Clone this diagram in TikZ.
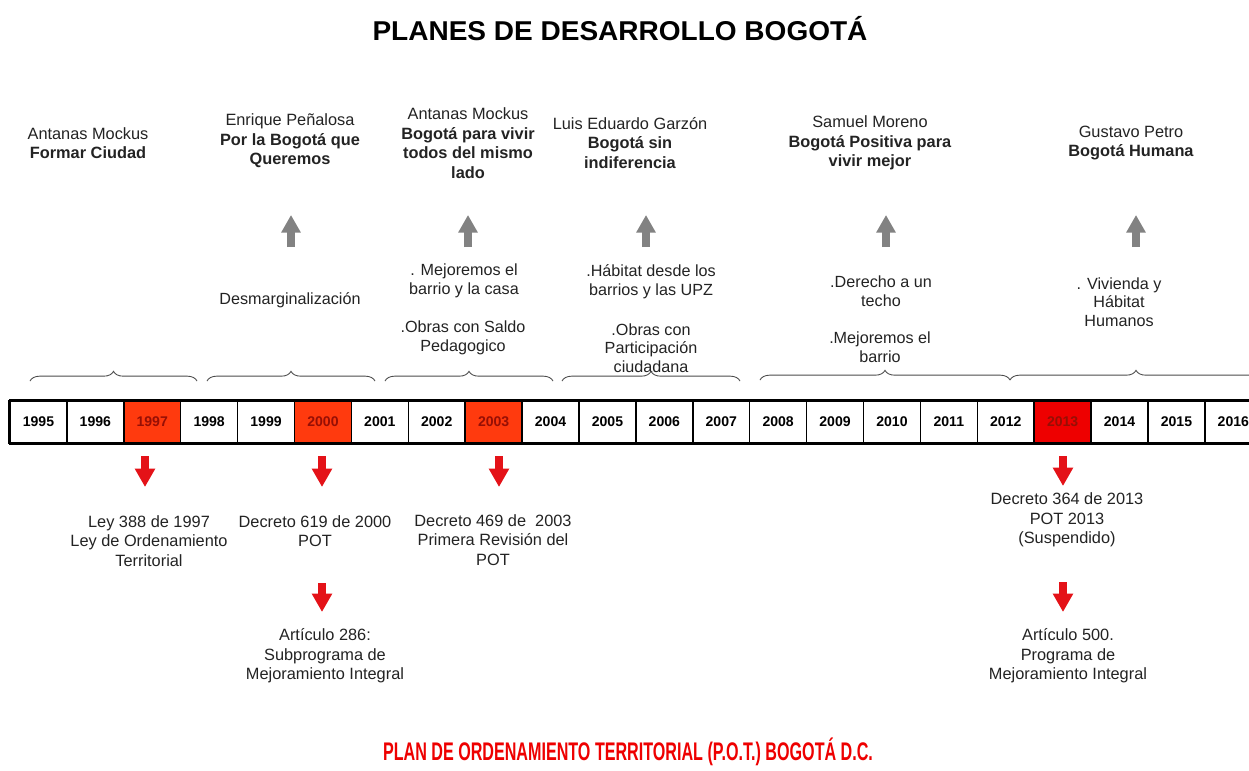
\documentclass[tikz,border=0pt]{standalone}
\usepackage{fontspec}
\setmainfont{Liberation Sans}
\usepackage{graphicx}
\usetikzlibrary{arrows.meta,decorations.pathreplacing}
\definecolor{naranja}{RGB}{255,58,14}
\definecolor{rojo}{RGB}{238,0,0}
\definecolor{rojooscuro}{RGB}{150,15,5}
\definecolor{flecha}{RGB}{228,18,24}
\definecolor{gris}{RGB}{130,130,130}
\definecolor{texto}{RGB}{35,35,35}
\tikzset{
    plan/.style={align=center,inner sep=0pt,text=texto,font=\fontsize{9.3}{11.2}\selectfont},
    item/.style={align=center,inner sep=0pt,text=texto,font=\fontsize{9.2}{10.6}\selectfont},
    norma/.style={align=center,inner sep=0pt,text=texto,font=\fontsize{9.3}{11}\selectfont},
    anio/.style={draw,line width=0.8pt,minimum width=1.138cm,minimum height=0.84cm,inner sep=0pt,font=\fontsize{8}{9}\selectfont\bfseries},
    periodo/.style={draw=black!70,line width=0.5pt,decorate,decoration={brace,amplitude=5.5pt}},
    subir/.style={draw=gris,line width=4.6pt,-{Triangle[length=10pt,width=10.5pt]}},
    bajar/.style={draw=flecha,line width=5pt,-{Triangle[length=10.5pt,width=11pt]}}
}

\begin{document}
\begin{tikzpicture}[x=0.02cm,y=-0.02cm]
    \useasboundingbox (0,0) rectangle (1249,771);
    \clip (0,0) rectangle (1249,771);
    \fill[white] (0,0) rectangle (1249,771);

    \node[inner sep=0pt] (titulo) at (620,29) {\resizebox{9.9cm}{\height}{\fontsize{15.5}{18}\selectfont\bfseries PLANES DE DESARROLLO BOGOTÁ}};

    % planes de desarrollo
    \node[plan] (plan1) at (88,143) {Antanas Mockus\\\textbf{Formar Ciudad}};
    \node[plan] (plan2) at (290,141) {Enrique Peñalosa\\\textbf{Por la Bogotá que}\\\textbf{Queremos}};
    \node[plan] (plan3) at (468,143) {Antanas Mockus\\\textbf{Bogotá para vivir}\\\textbf{todos del mismo}\\\textbf{lado}};
    \node[plan] (plan4) at (630,143) {Luis Eduardo Garzón\\\textbf{Bogotá sin}\\\textbf{indiferencia}};
    \node[plan] (plan5) at (870,143) {Samuel Moreno\\\textbf{Bogotá Positiva para}\\\textbf{vivir mejor}};
    \node[plan] (plan6) at (1131,143) {Gustavo Petro\\\textbf{Bogotá Humana}};

    \node[item] (eje2) at (290,300) {Desmarginalización};
    \node[item] (eje3a) at (464,281) {. Mejoremos el\\barrio y la casa};
    \node[item] (eje3b) at (463,338) {.Obras con Saldo\\Pedagogico};
    \node[item] (eje4a) at (651,282) {.Hábitat desde los\\barrios y las UPZ};
    \node[item] (eje4b) at (651,348) {.Obras con\\Participación\\ciudadana};
    \node[item] (eje5a) at (881,291) {.Derecho a un\\techo};
    \node[item] (eje5b) at (880,347) {.Mejoremos el\\barrio};
    \node[item] (eje6) at (1119,302) {. Vivienda y\\Hábitat\\Humanos};

    \foreach \n/\x in {2/291,3/468,4/646,5/886,6/1136}{
        \coordinate (gb\n) at (\x,247);
        \coordinate (gt\n) at (\x,215);
        \draw[subir] (gb\n) -- (gt\n);
    }

    % periodos
    \draw[periodo] (30,381) -- (197,381);
    \draw[periodo] (207,381) -- (375,381);
    \draw[periodo] (385,381) -- (553,381);
    \draw[periodo] (562,381) -- (740,381);
    \draw[periodo] (760,380) -- (1010,380);
    \draw[periodo] (1010,380) -- (1262,380);

    % linea de tiempo
    \foreach \yr/\bg/\fg in {1995/white/black,1996/white/black,1997/naranja/rojooscuro,1998/white/black,
        1999/white/black,2000/naranja/rojooscuro,2001/white/black,2002/white/black,2003/naranja/rojooscuro,
        2004/white/black,2005/white/black,2006/white/black,2007/white/black,2008/white/black,2009/white/black,
        2010/white/black,2011/white/black,2012/white/black,2013/rojo/rojooscuro,2014/white/black,
        2015/white/black,2016/white/black}
        \node[anio,fill=\bg,text=\fg] (y\yr) at ({38.45+56.9*(\yr-1995)},422) {\yr};
    \draw[line width=1.7pt] (y1995.north west) -- (y2016.north east);
    \draw[line width=1.7pt] (y1995.south west) -- (y2016.south east);
    \draw[line width=1.7pt] (y1995.north west) -- (y1995.south west);

    % normas
    \coordinate (r97) at (145,487);
    \coordinate (r00) at (322,487);
    \coordinate (r03) at (499,487);
    \coordinate (r13) at (1063,486);
    \draw[bajar,shorten <=7pt] (r97 |- y1997.south) -- (r97);
    \draw[bajar,shorten <=7pt] (r00 |- y2000.south) -- (r00);
    \draw[bajar,shorten <=7pt] (r03 |- y2003.south) -- (r03);
    \draw[bajar,shorten <=7pt] (r13 |- y2013.south) -- (r13);

    \node[norma] (ley97) at (149,541) {Ley 388 de 1997\\Ley de Ordenamiento\\Territorial};
    \node[norma] (dec00) at (315,531) {Decreto 619 de 2000\\POT};
    \node[norma] (dec03) at (493,540) {Decreto 469 de \ 2003\\Primera Revisión del\\POT};
    \node[norma] (dec13) at (1067,520) {Decreto 364 de 2013\\POT 2013\\(Suspendido)};

    \coordinate (a00b) at (322,583);
    \coordinate (a00t) at (322,612);
    \coordinate (a13b) at (1063,582);
    \coordinate (a13t) at (1063,612);
    \draw[bajar] (a00b) -- (a00t);
    \draw[bajar] (a13b) -- (a13t);

    \node[norma] (art286) at (325,656) {Artículo 286:\\Subprograma de\\Mejoramiento Integral};
    \node[norma] (art500) at (1068,656) {Artículo 500.\\Programa de\\Mejoramiento Integral};

    \node[text=rojo,inner sep=0pt] (pot) at (628,752) {\resizebox{9.8cm}{\height}{\fontsize{14.5}{16}\selectfont\bfseries PLAN DE ORDENAMIENTO TERRITORIAL (P.O.T.) BOGOTÁ D.C.}};
\end{tikzpicture}
\end{document}
